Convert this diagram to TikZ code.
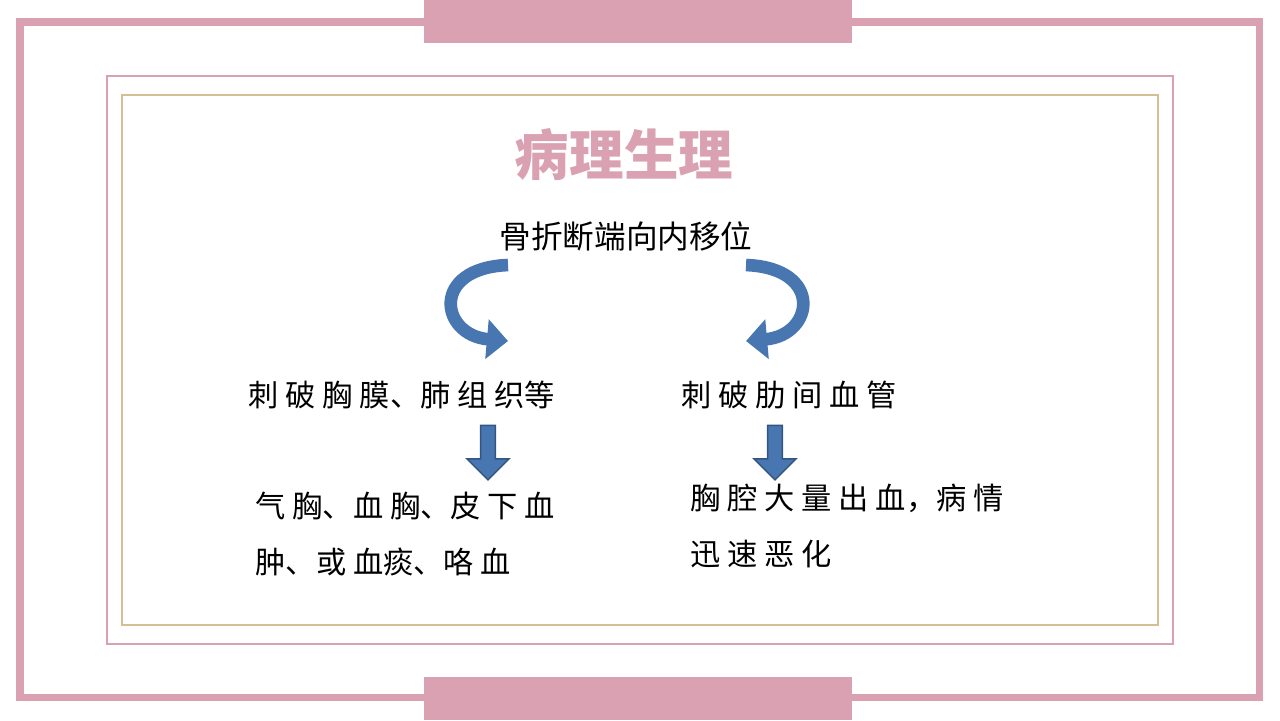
\documentclass[tikz,border=0pt]{standalone}
\usepackage{fontspec}
\newfontfamily\cjk{Noto Sans CJK SC}
\usetikzlibrary{arrows.meta,shapes.arrows}
\definecolor{framepink}{RGB}{217,161,177}
\definecolor{tanline}{RGB}{214,190,150}
\definecolor{arrowblue}{RGB}{72,118,176}
\definecolor{arrowedge}{RGB}{50,85,130}
\tikzset{
  label/.style={font=\cjk\fontsize{8.6pt}{12pt}\selectfont, anchor=west, inner sep=0pt, align=left},
  bendarrow/.style={line width=3.6pt, arrowblue, -{Triangle[width=11pt,length=6pt]}},
  downarrow/.style={single arrow, draw=arrowedge, fill=arrowblue, shape border rotate=270,
    minimum width=12pt, minimum height=15.5pt, single arrow head extend=3pt, inner sep=1.4pt}
}
\begin{document}
\begin{tikzpicture}[x=0.01cm,y=-0.01cm]
  \useasboundingbox (0,0) rectangle (1280,720);
  % frames
  \draw[framepink, line width=2pt] (20,22) rectangle (1259,697);
  \fill[framepink] (424,0) rectangle (852,43);
  \fill[framepink] (424,677) rectangle (852,720);
  \draw[framepink, line width=0.6pt] (107,76) rectangle (1173,644);
  \draw[tanline, line width=0.6pt] (122,95) rectangle (1158,625);
  % title and texts
  \node[font=\cjk\bfseries\fontsize{15.5pt}{18pt}\selectfont, text=framepink] (title) at (624,155) {病理生理};
  \node[font=\cjk\fontsize{9pt}{12pt}\selectfont] (cause) at (626,236) {骨折断端向内移位};
  \node[label] (lung) at (248,395) {刺\ 破\ 胸\ 膜、肺\ 组\ 织等};
  \node[label] (vessel) at (681,395) {刺\ 破\ 肋\ 间\ 血\ 管};
  \node[label] (leftres) at (255,534) {气\ 胸、血\ 胸、皮\ 下\ 血\\[4pt]肿、或\ 血痰、咯\ 血};
  \node[label] (rightres) at (690,526) {胸\ 腔\ 大\ 量\ 出\ 血，病\ 情\\[4pt]迅\ 速\ 恶\ 化};
  % curved arrows
  \coordinate (lstart) at (508,265);
  \coordinate (lend) at (508,341);
  \coordinate (rstart) at (746,265);
  \coordinate (rend) at (746,341);
  \draw[bendarrow] (lstart) .. controls (430,268) and (440,335) .. (lend);
  \draw[bendarrow] (rstart) .. controls (824,268) and (814,335) .. (rend);
  % straight arrows
  \node[downarrow] (ldown) at (488,449) {};
  \node[downarrow] (rdown) at (775,449) {};
\end{tikzpicture}
\end{document}
